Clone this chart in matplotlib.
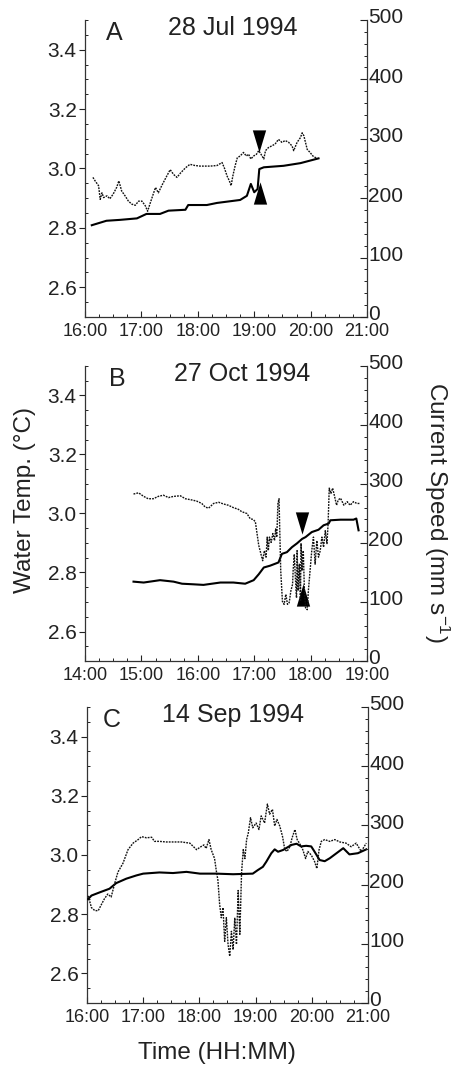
import numpy as np
import matplotlib
matplotlib.use('Agg')
import matplotlib.pyplot as plt
from matplotlib.ticker import MultipleLocator, FuncFormatter
from matplotlib.transforms import ScaledTranslation

plt.rcParams['font.family'] = ['Liberation Sans', 'DejaVu Sans']
plt.rcParams['mathtext.fontset'] = 'custom'
plt.rcParams['mathtext.rm'] = 'Liberation Sans'
plt.rcParams['mathtext.it'] = 'Liberation Sans:italic'

##### Data (time in decimal hours) #####

# Panel A - 28 Jul 1994
a_temp_time = [16.12, 16.38, 16.62, 16.92, 17.09, 17.33, 17.48, 17.78, 17.83, 18.16,
               18.34, 18.75, 18.87, 18.94, 19.00, 19.06, 19.09, 19.17, 19.52, 19.82, 20.14]
a_temp = [2.809, 2.824, 2.827, 2.832, 2.847, 2.847, 2.858, 2.861, 2.877, 2.877,
          2.884, 2.894, 2.908, 2.948, 2.920, 2.931, 2.998, 3.004, 3.009, 3.018, 3.034]
a_speed_time = [16.14, 16.18, 16.24, 16.27, 16.30, 16.33, 16.39, 16.44, 16.50, 16.56,
                16.60, 16.65, 16.71, 16.77, 16.83, 16.89, 16.95, 17.01, 17.07, 17.11,
                17.15, 17.21, 17.25, 17.30, 17.36, 17.42, 17.51, 17.57, 17.63, 17.69,
                17.78, 17.86, 17.95, 18.04, 18.13, 18.22, 18.34, 18.43, 18.47, 18.52,
                18.56, 18.59, 18.62, 18.66, 18.70, 18.75, 18.81, 18.86, 18.90, 18.94,
                18.99, 19.04, 19.08, 19.12, 19.17, 19.20, 19.25, 19.31, 19.37, 19.43,
                19.49, 19.55, 19.61, 19.67, 19.70, 19.76, 19.82, 19.85, 19.88, 19.94,
                19.99, 20.04, 20.11]
a_speed = [235, 229, 221, 198, 209, 201, 204, 199, 207, 218,
           229, 212, 204, 195, 190, 188, 195, 195, 187, 178,
           190, 207, 218, 209, 221, 232, 248, 240, 235, 242,
           251, 257, 255, 254, 254, 254, 255, 260, 251, 237,
           229, 221, 237, 254, 268, 271, 277, 271, 274, 266,
           271, 274, 280, 274, 266, 280, 285, 288, 291, 299,
           294, 297, 294, 288, 280, 294, 302, 310, 305, 282,
           277, 271, 267]
a_arrow_time = [19.09, 19.10]
a_arrow_temp = [3.092, 2.917]

# Panel B - 27 Oct 1994
b_temp_time = [14.86, 15.04, 15.33, 15.57, 15.72, 15.92, 16.10, 16.40, 16.63, 16.84,
               16.99, 17.08, 17.17, 17.28, 17.43, 17.49, 17.58, 17.67, 17.76, 17.85,
               17.91, 18.02, 18.14, 18.23, 18.32, 18.35, 18.53, 18.76, 18.81, 18.85]
b_temp = [2.769, 2.766, 2.774, 2.769, 2.762, 2.760, 2.758, 2.766, 2.766, 2.762,
          2.774, 2.794, 2.817, 2.823, 2.834, 2.863, 2.869, 2.886, 2.899, 2.914,
          2.920, 2.937, 2.945, 2.960, 2.966, 2.977, 2.979, 2.979, 2.983, 2.943]
b_speed_time = [14.86, 14.95, 15.04, 15.12, 15.21, 15.30, 15.39, 15.48, 15.57, 15.69,
                15.78, 15.89, 15.98, 16.07, 16.13, 16.19, 16.28, 16.37, 16.46, 16.54,
                16.63, 16.72, 16.78, 16.87, 16.93, 16.98, 17.02, 17.05, 17.08, 17.12,
                17.15, 17.18, 17.21, 17.23, 17.25, 17.27, 17.30, 17.33, 17.36, 17.38,
                17.40, 17.42, 17.44, 17.45, 17.47, 17.50, 17.53, 17.56, 17.59, 17.62,
                17.65, 17.68, 17.69, 17.71, 17.73, 17.75, 17.76, 17.78, 17.80, 17.82,
                17.83, 17.85, 17.87, 17.89, 17.91, 17.94, 17.96, 17.99, 18.02, 18.05,
                18.08, 18.11, 18.14, 18.17, 18.20, 18.23, 18.26, 18.29, 18.31, 18.33,
                18.36, 18.39, 18.42, 18.46, 18.49, 18.53, 18.59, 18.65, 18.70, 18.76,
                18.82, 18.87]
b_speed = [283, 285, 279, 275, 275, 279, 281, 277, 279, 280,
           275, 273, 271, 267, 261, 259, 267, 269, 266, 264,
           260, 257, 253, 250, 241, 240, 236, 216, 196, 181,
           170, 187, 176, 210, 187, 210, 201, 216, 204, 224,
           210, 267, 275, 233, 153, 101, 96, 113, 96, 99,
           119, 130, 153, 181, 141, 107, 187, 119, 164, 101,
           199, 153, 187, 119, 90, 87, 119, 153, 187, 210,
           164, 204, 176, 187, 210, 193, 221, 199, 233, 293,
           284, 293, 281, 264, 273, 276, 264, 270, 264, 270,
           267, 267]
b_arrow_time = [17.85, 17.86]
b_arrow_temp = [2.969, 2.723]

# Panel C - 14 Sep 1994
c_temp_time = [16.02, 16.08, 16.23, 16.40, 16.52, 16.70, 16.88, 17.00, 17.29, 17.53,
               17.77, 18.01, 18.30, 18.60, 18.95, 19.04, 19.13, 19.19, 19.28, 19.34,
               19.40, 19.49, 19.64, 19.73, 19.81, 19.90, 19.99, 20.05, 20.14, 20.23,
               20.32, 20.44, 20.56, 20.67, 20.82, 20.97]
c_temp = [2.851, 2.863, 2.874, 2.886, 2.905, 2.920, 2.931, 2.937, 2.941, 2.939,
          2.943, 2.937, 2.937, 2.935, 2.937, 2.949, 2.960, 2.977, 3.006, 3.019,
          3.011, 3.017, 3.034, 3.038, 3.029, 3.031, 3.029, 3.011, 2.983, 2.979,
          2.989, 3.006, 3.023, 3.002, 3.006, 3.019]
c_speed_time = [16.02, 16.08, 16.14, 16.20, 16.26, 16.31, 16.37, 16.43, 16.49, 16.55,
                16.64, 16.73, 16.82, 16.91, 16.97, 17.06, 17.15, 17.20, 17.29, 17.41,
                17.53, 17.68, 17.83, 17.95, 18.01, 18.08, 18.12, 18.17, 18.21, 18.27,
                18.30, 18.33, 18.36, 18.39, 18.42, 18.45, 18.48, 18.51, 18.54, 18.57,
                18.60, 18.63, 18.66, 18.69, 18.72, 18.75, 18.78, 18.81, 18.84, 18.87,
                18.91, 18.95, 19.01, 19.06, 19.10, 19.16, 19.21, 19.25, 19.30, 19.34,
                19.38, 19.43, 19.48, 19.52, 19.56, 19.61, 19.65, 19.70, 19.74, 19.78,
                19.84, 19.89, 19.93, 19.99, 20.05, 20.09, 20.13, 20.17, 20.23, 20.32,
                20.41, 20.50, 20.61, 20.70, 20.79, 20.88, 20.97]
c_speed = [181, 161, 156, 156, 167, 176, 184, 179, 201, 221,
           236, 259, 270, 276, 281, 279, 280, 273, 273, 272,
           272, 272, 270, 259, 263, 267, 261, 276, 259, 244,
           224, 207, 167, 144, 161, 104, 144, 99, 79, 121,
           90, 144, 99, 190, 116, 219, 259, 244, 276, 287,
           313, 296, 304, 293, 316, 304, 336, 319, 327, 299,
           310, 299, 281, 259, 256, 264, 279, 293, 276, 270,
           259, 244, 256, 250, 239, 227, 259, 273, 276, 273,
           276, 272, 270, 264, 270, 256, 270]

###########################
##### Plot Functions #####
###########################

ink = '#222222'


def hour_label(v, pos):
    return '{:d}:{:02d}'.format(int(v), int(round((v % 1) * 60)))


def draw_panel(rect, xlim, temp_time, temp, speed_time, speed, letter, date,
               letter_x, date_x, arrow_time=None, arrow_temp=None):
    '''
    Draws one panel: water temp (solid, left axis) and current speed
    (dotted, right axis) against time of day
    '''
    ax = fig.add_axes(rect)
    ax2 = ax.twinx()
    ax.plot(temp_time, temp, color='black', lw=1.5, zorder=3)
    ax2.plot(speed_time, speed, color='#111111', lw=1.0, ls=(0, (1.3, 0.8)))
    if arrow_time is not None:
        down = [(-0.3, 0.5), (0.3, 0.5), (0.0, -0.5)]
        up = [(-0.3, -0.5), (0.3, -0.5), (0.0, 0.5)]
        ax.plot(arrow_time[0], arrow_temp[0], marker=down, ms=16,
                color='black', mec='none', zorder=4)
        ax.plot(arrow_time[1], arrow_temp[1], marker=up, ms=16,
                color='black', mec='none', zorder=4)
    ax.set_xlim(xlim)
    ax.set_ylim(2.5, 3.5)
    ax2.set_ylim(0, 500)
    ax.set_yticks([2.6, 2.8, 3.0, 3.2, 3.4])
    ax.yaxis.set_minor_locator(MultipleLocator(0.05))
    ax.xaxis.set_major_locator(MultipleLocator(1))
    ax.xaxis.set_minor_locator(MultipleLocator(0.25))
    ax.xaxis.set_major_formatter(FuncFormatter(hour_label))
    ax2.yaxis.set_major_locator(MultipleLocator(100))
    ax2.yaxis.set_minor_locator(MultipleLocator(20))
    for a in (ax, ax2):
        a.spines['top'].set_visible(False)
        for s in a.spines.values():
            s.set_linewidth(0.9)
            s.set_color('#333333')
    ax.spines['right'].set_visible(False)
    ax2.spines['left'].set_visible(False)
    ax2.spines['bottom'].set_visible(False)
    ax.tick_params(axis='y', which='major', direction='out', length=4, width=0.8,
                   pad=2, labelsize=15, colors=ink)
    ax.tick_params(axis='y', which='minor', direction='in', length=2.5, width=0.7,
                   colors=ink)
    ax.tick_params(axis='x', which='major', direction='in', length=4, width=0.8,
                   pad=4, labelsize=13, colors=ink)
    ax.tick_params(axis='x', which='minor', direction='in', length=2.5, width=0.7,
                   colors=ink)
    ax2.tick_params(axis='y', which='major', direction='in', length=5, width=0.8,
                    pad=1, labelsize=15, colors=ink)
    ax2.tick_params(axis='y', which='minor', direction='in', length=2.5, width=0.7,
                    colors=ink)
    # right labels sit a little above their ticks in the original
    lift = ScaledTranslation(0, 3 / 72, fig.dpi_scale_trans)
    for t in ax2.get_yticklabels():
        t.set_transform(t.get_transform() + lift)
    ax.text(letter_x, 0.955, letter, transform=ax.transAxes, ha='center',
            va='center', fontsize=18, color=ink)
    ax.text(date_x, 0.972, date, transform=ax.transAxes, ha='center',
            va='center', fontsize=18, color=ink)
    return ax, ax2


fig = plt.figure(figsize=(4.51, 10.67), dpi=100)

draw_panel([0.1885, 0.7029, 0.6253, 0.2784], (16, 21), a_temp_time, a_temp,
           a_speed_time, a_speed, 'A', '28 Jul 1994', 0.103, 0.523,
           a_arrow_time, a_arrow_temp)
draw_panel([0.1885, 0.3805, 0.6253, 0.2765], (14, 19), b_temp_time, b_temp,
           b_speed_time, b_speed, 'B', '27 Oct 1994', 0.114, 0.558,
           b_arrow_time, b_arrow_temp)
draw_panel([0.1929, 0.0600, 0.6230, 0.2774], (16, 21), c_temp_time, c_temp,
           c_speed_time, c_speed, 'C', '14 Sep 1994', 0.089, 0.52)

fig.text(0.055, 0.531, 'Water Temp. (°C)', rotation=90, ha='center', va='center',
         fontsize=17.5, color=ink)
fig.text(0.969, 0.52, 'Current Speed (mm s$^{-1}$)', rotation=270, ha='center',
         va='center', fontsize=17.5, color=ink)
fig.text(0.482, 1 - 1053 / 1067, 'Time (HH:MM)', ha='center', va='center',
         fontsize=17.5, color=ink)

fig.savefig('out.png', dpi=100)
